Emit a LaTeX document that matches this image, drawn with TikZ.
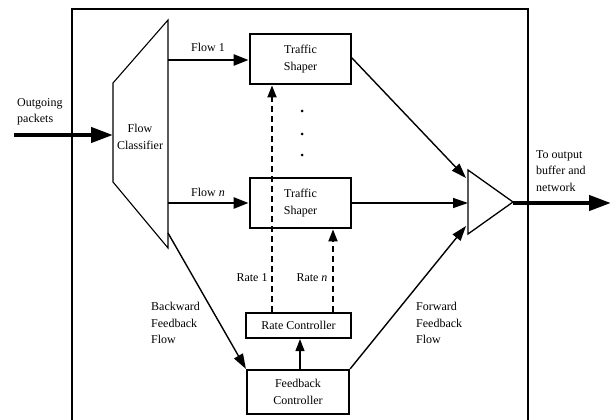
\documentclass[tikz,border=0pt]{standalone}
\usepackage{fontspec}
\setmainfont{Liberation Serif}
\usetikzlibrary{arrows.meta,calc}
\begin{document}
\begin{tikzpicture}[x=1pt,y=-1pt,
  every node/.style={font=\fontsize{12}{16.5}\selectfont, inner sep=0pt},
  box/.style={draw, line width=2.8pt, align=center},
  thinbox/.style={draw, line width=2.2pt, align=center},
  lbl/.style={align=left, anchor=west},
  flowarrow/.style={line width=2.4pt, -{Triangle[length=15pt,width=11pt]}},
  diagarrow/.style={line width=1.4pt, -{Triangle[length=15pt,width=10pt]}},
  thickarrow/.style={line width=4.2pt, -{Triangle[length=22pt,width=15pt]}},
  ratearrow/.style={line width=1.8pt, dash pattern=on 6pt off 4pt, -{Triangle[length=12pt,width=9pt]}}
]
\useasboundingbox (0,0) rectangle (614,420);
% outer frame
\draw[line width=1.8pt] (72,425) -- (72,9) -- (528,9) -- (528,425);
% flow classifier
\coordinate (c1) at (168,20);
\coordinate (c2) at (113,83);
\coordinate (c3) at (113,182);
\coordinate (c4) at (168,248);
\draw[line width=1.1pt] (c1) -- (c2) -- (c3) -- (c4) -- cycle;
\node[align=center] (cls) at (140,137) {Flow\\Classifier};
\coordinate (clsin) at (113,135);
\coordinate (clsf1) at (168,60);
\coordinate (clsfn) at (168,203);
\coordinate (clsbk) at (168,233);
% boxes
\node[box, minimum width=101pt, minimum height=50pt] (ts1) at (300.5,59) {Traffic\\Shaper};
\node[box, minimum width=101pt, minimum height=50pt] (tsn) at (300.5,203) {Traffic\\Shaper};
\node[thinbox, minimum width=105pt, minimum height=25pt] (rc) at (298.5,325.5) {Rate Controller};
\node[thinbox, minimum width=102pt, minimum height=44pt] (fc) at (298,392) {Feedback\\Controller};
% dots
\foreach \yy/\nm in {111/d1,134/d2,155/d3} \fill (302,\yy) circle (1.5pt) coordinate (\nm);
% merger triangle
\coordinate (m1) at (468,170);
\coordinate (m2) at (468,234);
\coordinate (mtip) at (513,202);
\draw[line width=1.3pt] (m1) -- (m2) -- (mtip) -- cycle;
% outgoing packets
\coordinate (inp) at (14,135);
\draw[thickarrow] (inp) -- (clsin);
\node[lbl] (outg) at (17,112) {Outgoing\\packets};
% flows
\draw[flowarrow] (clsf1) -- (ts1.west |- clsf1);
\node (f1) at (208,47) {Flow 1};
\draw[flowarrow] (clsfn) -- (tsn.west |- clsfn);
\node (fn) at (208,192) {Flow \textit{n}};
% rate arrows
\coordinate (x1) at (272,0);
\coordinate (xn) at (333,0);
\coordinate (xc) at (300,0);
\draw[ratearrow] (rc.north -| x1) -- (ts1.south -| x1);
\draw[ratearrow] (rc.north -| xn) -- (tsn.south -| xn);
\node (r1) at (252,278) {Rate 1};
\node (rn) at (312,278) {Rate \textit{n}};
% feedback to rate controller
\draw[line width=1.3pt, -{Triangle[length=12pt,width=9pt]}] (fc.north -| xc) -- (rc.south -| xc);
% backward feedback
\draw[diagarrow] (clsbk) -- (fc.north west);
\node[lbl] (bk) at (151,323) {Backward\\Feedback\\Flow};
% to merger
\coordinate (ts1e) at (351,57);
\coordinate (m1in) at (466,178);
\coordinate (mnin) at (468,203);
\coordinate (m3in) at (466,226);
\draw[diagarrow] (ts1e) -- (m1in);
\draw[diagarrow] (tsn.east |- mnin) -- (mnin);
\draw[diagarrow] (fc.north east) -- (m3in);
\node[lbl] (fw) at (416,323) {Forward\\Feedback\\Flow};
% output
\coordinate (outp) at (611,203);
\draw[thickarrow] (mtip |- outp) -- (outp);
\node[lbl] (tob) at (536,171) {To output\\buffer and\\network};
\end{tikzpicture}
\end{document}
